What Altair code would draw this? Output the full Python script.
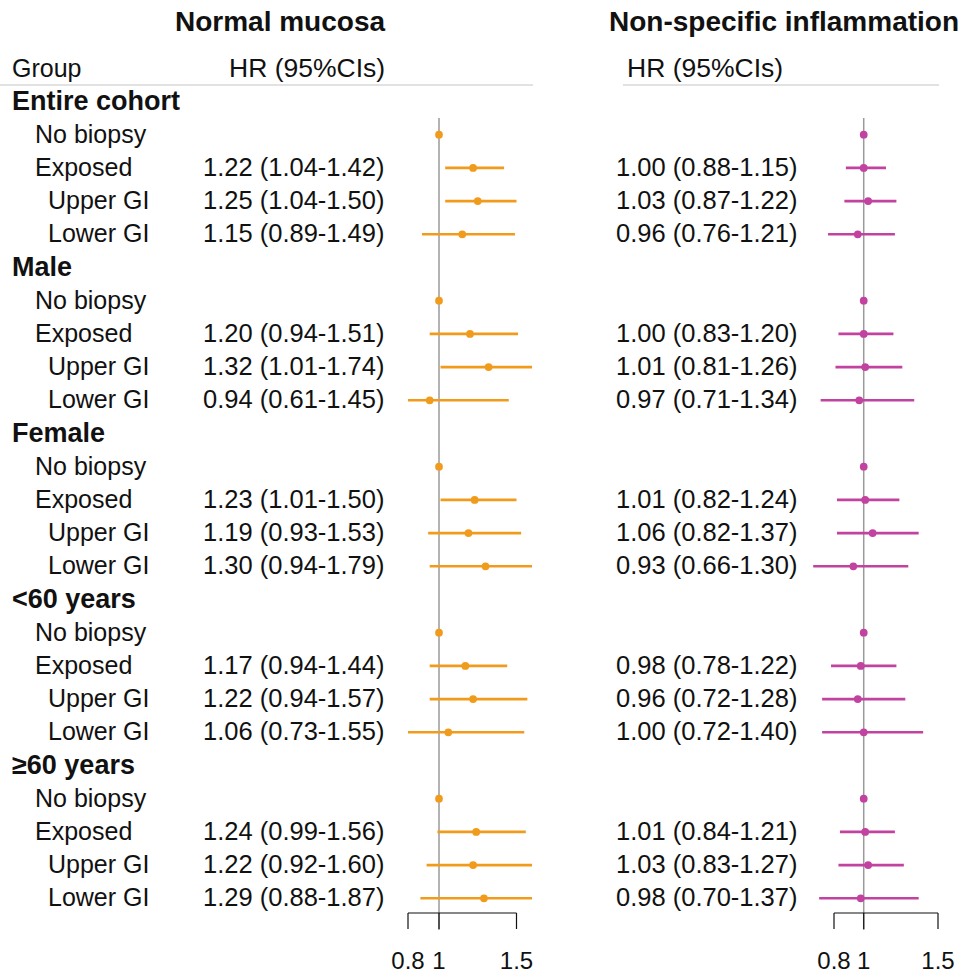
import altair as alt
import pandas as pd

# ---------------- data ----------------
groups = ["Entire cohort", "Male", "Female", "<60 years", "≥60 years"]
sub_labels = ["No biopsy", "Exposed", "Upper GI", "Lower GI"]
sub_levels = [1, 1, 2, 2]

# Normal mucosa: Exposed, Upper GI, Lower GI for each group
nm_hr = [1.22, 1.25, 1.15, 1.20, 1.32, 0.94, 1.23, 1.19, 1.30, 1.17, 1.22, 1.06, 1.24, 1.22, 1.29]
nm_lo = [1.04, 1.04, 0.89, 0.94, 1.01, 0.61, 1.01, 0.93, 0.94, 0.94, 0.94, 0.73, 0.99, 0.92, 0.88]
nm_hi = [1.42, 1.50, 1.49, 1.51, 1.74, 1.45, 1.50, 1.53, 1.79, 1.44, 1.57, 1.55, 1.56, 1.60, 1.87]

# Non-specific inflammation
ns_hr = [1.00, 1.03, 0.96, 1.00, 1.01, 0.97, 1.01, 1.06, 0.93, 0.98, 0.96, 1.00, 1.01, 1.03, 0.98]
ns_lo = [0.88, 0.87, 0.76, 0.83, 0.81, 0.71, 0.82, 0.82, 0.66, 0.78, 0.72, 0.72, 0.84, 0.83, 0.70]
ns_hi = [1.15, 1.22, 1.21, 1.20, 1.26, 1.34, 1.24, 1.37, 1.30, 1.22, 1.28, 1.40, 1.21, 1.27, 1.37]

reference_hr = 1.0
tick_values = [0.8, 1.0, 1.5]
tick_labels = ["0.8", "1", "1.5"]

titles = ["Normal mucosa", "Non-specific inflammation"]

# ---------------- build table ----------------
recs = []
row = 0
k = 0
for g in groups:
    recs.append(dict(row=row, label=g, level=0))
    row += 1
    for lab, lev in zip(sub_labels, sub_levels):
        r = dict(row=row, label=lab, level=lev)
        if lab == "No biopsy":
            r.update(nm_hr=reference_hr, ns_hr=reference_hr)
        else:
            r.update(nm_hr=nm_hr[k], nm_lo=nm_lo[k], nm_hi=nm_hi[k],
                     ns_hr=ns_hr[k], ns_lo=ns_lo[k], ns_hi=ns_hi[k])
            r["nm_txt"] = f"{nm_hr[k]:.2f} ({nm_lo[k]:.2f}-{nm_hi[k]:.2f})"
            r["ns_txt"] = f"{ns_hr[k]:.2f} ({ns_lo[k]:.2f}-{ns_hi[k]:.2f})"
            k += 1
        recs.append(r)
        row += 1
df = pd.DataFrame(recs)
n_rows = len(df)

ticks_df = pd.DataFrame({"t": tick_values, "lab": tick_labels})
span_df = pd.DataFrame({"a": [min(tick_values)], "b": [max(tick_values)]})
ref_df = pd.DataFrame({"v": [reference_hr]})
one = pd.DataFrame({"d": [0]})

FONT = "Liberation Sans"
ORANGE = "#F19B1C"
MAGENTA = "#C2429F"

yscale = alt.Scale(domain=[0, n_rows - 1], range=[101.5, 898.3])
Y = alt.Y("row:Q", scale=yscale, axis=None)

base = alt.Chart(df)

# ---------------- left text columns ----------------
def label_layer(level, xpos, bold, size):
    return base.transform_filter(f"datum.level == {level}").mark_text(
        align="left", baseline="middle", font=FONT, fontSize=size,
        fontWeight="bold" if bold else "normal", color="#111"
    ).encode(x=alt.value(xpos), y=Y, text="label:N")

labels = [
    label_layer(0, 12, True, 27),
    label_layer(1, 35, False, 25),
    label_layer(2, 48, False, 25),
]

def hr_text(field, xpos):
    return base.transform_filter(f"isValid(datum.{field})").mark_text(
        align="left", baseline="middle", font=FONT, fontSize=25.5, color="#111"
    ).encode(x=alt.value(xpos), y=Y, text=f"{field}:N")

hr_texts = [hr_text("nm_txt", 203), hr_text("ns_txt", 616)]

def const_text(txt, xpos, ypos, size, bold=False, align="left"):
    return alt.Chart(one).mark_text(
        text=txt, align=align, baseline="middle", font=FONT, fontSize=size,
        fontWeight="bold" if bold else "normal", color="#111"
    ).encode(x=alt.value(xpos), y=alt.value(ypos))

headers = [
    const_text(titles[0], 280, 23, 28, True, "center"),
    const_text(titles[1], 784, 23, 28, True, "center"),
    const_text("Group", 12, 69, 25),
    const_text("HR (95%CIs)", 229, 69, 26.5),
    const_text("HR (95%CIs)", 627, 69, 26.5),
]

underlines = [
    alt.Chart(one).mark_rule(color="#e2e2e2", strokeWidth=2).encode(
        x=alt.value(0), x2=alt.value(533), y=alt.value(85)),
    alt.Chart(one).mark_rule(color="#e2e2e2", strokeWidth=2).encode(
        x=alt.value(623), x2=alt.value(939), y=alt.value(85)),
]

# ---------------- forest panels ----------------
def forest(prefix, color, domain, rng, clamp):
    sc = alt.Scale(domain=domain, range=rng, clamp=clamp, zero=False, nice=False)
    ref = alt.Chart(ref_df).mark_rule(color="#9a9a9a", strokeWidth=1.5).encode(
        x=alt.X("v:Q", scale=sc, axis=None), y=alt.value(118), y2=alt.value(930))
    ci = base.transform_filter(f"isValid(datum.{prefix}_lo)").mark_rule(
        color=color, strokeWidth=2.6).encode(
        x=alt.X(f"{prefix}_lo:Q", scale=sc, axis=None),
        x2=f"{prefix}_hi:Q", y=Y)
    pt = base.transform_filter(f"isValid(datum.{prefix}_hr)").mark_circle(
        color=color, size=60, opacity=1).encode(
        x=alt.X(f"{prefix}_hr:Q", scale=sc, axis=None), y=Y)
    axis_line = alt.Chart(span_df).mark_rule(color="#111", strokeWidth=1.2).encode(
        x=alt.X("a:Q", scale=sc, axis=None), x2="b:Q", y=alt.value(913))
    axis_ticks = alt.Chart(ticks_df).mark_rule(color="#111", strokeWidth=1.2).encode(
        x=alt.X("t:Q", scale=sc, axis=None), y=alt.value(913), y2=alt.value(929))
    axis_labels = alt.Chart(ticks_df).mark_text(
        font=FONT, fontSize=24, color="#111", baseline="middle", align="center").encode(
        x=alt.X("t:Q", scale=sc, axis=None), y=alt.value(962), text="lab:N")
    return alt.layer(ref, ci, pt, axis_line, axis_ticks, axis_labels)

left = forest("nm", ORANGE, [0.8, 1.6], [408, 532], True)
right = forest("ns", MAGENTA, [0.8, 1.5], [834, 938], False)

chart = alt.layer(
    *underlines, *headers, *labels, *hr_texts, left, right
).resolve_scale(x="independent").properties(
    width=959, height=974, padding=0, autosize="none"
).configure_view(stroke=None)

chart.save("out.html", embed_options={"renderer": "svg", "actions": False})
